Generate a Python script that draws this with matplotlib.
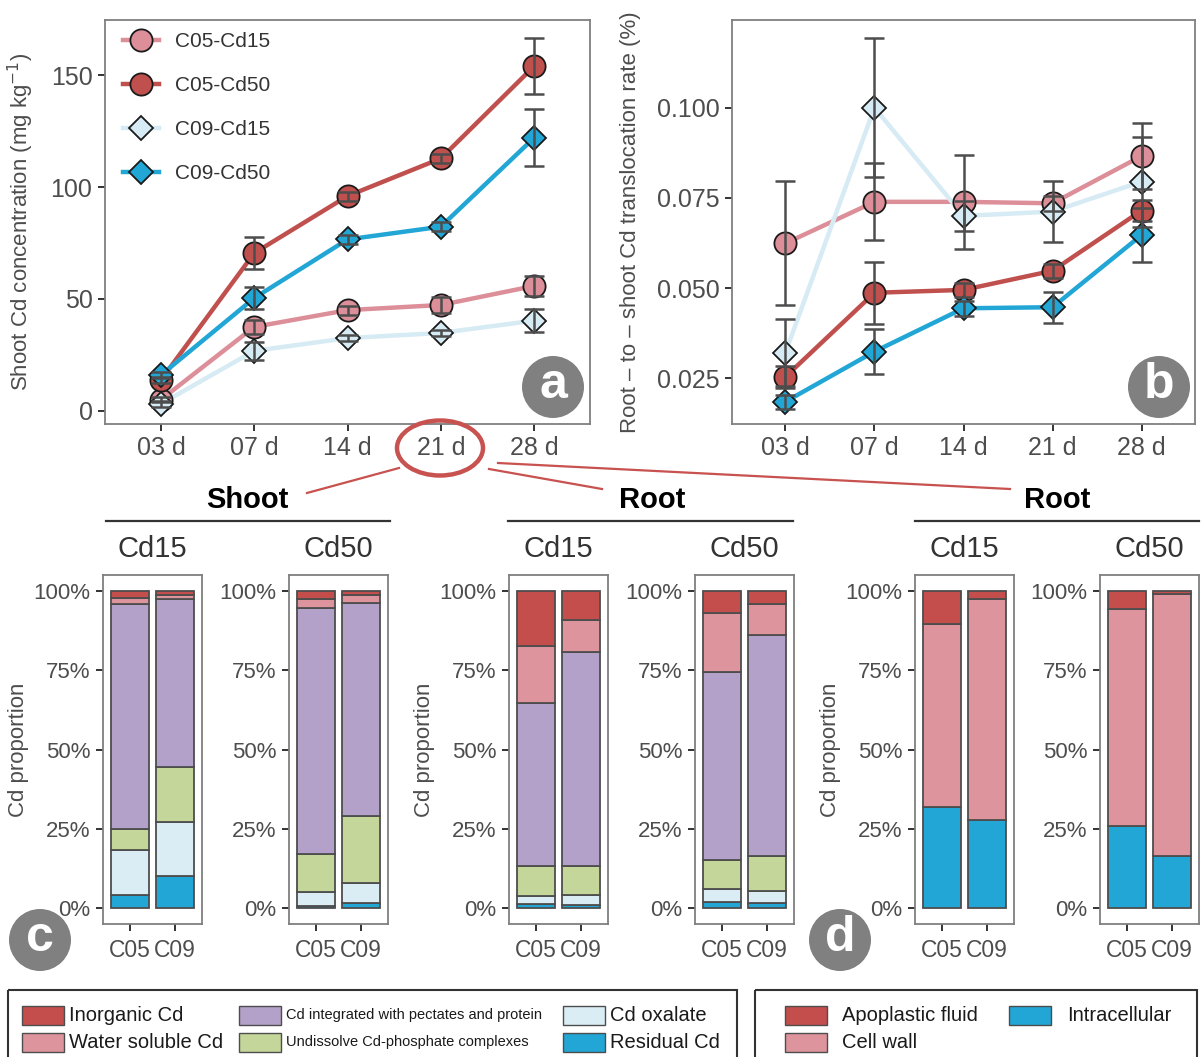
import numpy as np
import matplotlib
matplotlib.use('Agg')
import matplotlib.pyplot as plt
from matplotlib.lines import Line2D
from matplotlib.patches import Circle, Ellipse, Rectangle

plt.rcParams['font.family'] = ['Liberation Sans', 'DejaVu Sans']

# ---- data ----
days = ['03 d', '07 d', '14 d', '21 d', '28 d']
series = ['C05-Cd15', 'C05-Cd50', 'C09-Cd15', 'C09-Cd50']

# panel a: shoot Cd concentration (mg/kg)
conc_mean = {
    'C05-Cd15': [5.0, 37.5, 45.0, 47.3, 55.8],
    'C05-Cd50': [13.8, 70.5, 96.0, 112.8, 154.0],
    'C09-Cd15': [3.1, 26.8, 32.5, 34.8, 40.3],
    'C09-Cd50': [16.0, 50.4, 76.6, 82.3, 122.0],
}
conc_err = {
    'C05-Cd15': [1.0, 3.0, 2.0, 3.5, 4.3],
    'C05-Cd50': [1.5, 7.0, 2.0, 2.0, 12.5],
    'C09-Cd15': [1.5, 4.0, 1.5, 1.5, 5.2],
    'C09-Cd50': [1.5, 5.0, 2.0, 2.0, 12.7],
}

# panel b: root-to-shoot translocation rate (%)
trans_mean = {
    'C05-Cd15': [0.0624, 0.0739, 0.0739, 0.0735, 0.0866],
    'C05-Cd50': [0.0254, 0.0487, 0.0495, 0.0548, 0.0715],
    'C09-Cd15': [0.0321, 0.1000, 0.0700, 0.0712, 0.0795],
    'C09-Cd50': [0.0185, 0.0324, 0.0444, 0.0447, 0.0647],
}
trans_err = {
    'C05-Cd15': [0.0172, 0.0107, 0.0130, 0.0020, 0.0092],
    'C05-Cd50': [0.0030, 0.0086, 0.0020, 0.0020, 0.0030],
    'C09-Cd15': [0.0092, 0.0192, 0.0041, 0.0085, 0.0125],
    'C09-Cd50': [0.0020, 0.0063, 0.0020, 0.0043, 0.0074],
}

cultivars = ['C05', 'C09']

# panel c: chemical forms, stacked bottom -> top
forms = ['Residual Cd', 'Cd oxalate', 'Undissolve Cd-phosphate complexes',
         'Cd integrated with pectates and protein', 'Water soluble Cd', 'Inorganic Cd']
shoot_cd15 = {'C05': [4.1, 14.3, 6.5, 71.0, 1.9, 2.2],
              'C09': [10.0, 17.3, 17.3, 52.9, 1.2, 1.3]}
shoot_cd50 = {'C05': [0.8, 4.2, 12.0, 77.6, 2.8, 2.6],
              'C09': [1.5, 6.3, 21.3, 67.0, 2.6, 1.3]}
root_cd15 = {'C05': [1.3, 2.4, 9.7, 51.1, 18.0, 17.5],
             'C09': [0.9, 3.2, 9.3, 67.4, 9.9, 9.3]}
root_cd50 = {'C05': [2.0, 3.9, 9.4, 59.2, 18.6, 6.9],
             'C09': [1.7, 3.6, 11.1, 69.6, 9.9, 4.1]}

# panel d: subcellular distribution, stacked bottom -> top
parts = ['Intracellular', 'Cell wall', 'Apoplastic fluid']
sub_cd15 = {'C05': [31.8, 57.6, 10.6], 'C09': [27.7, 69.7, 2.6]}
sub_cd50 = {'C05': [26.0, 68.4, 5.6], 'C09': [16.5, 82.4, 1.1]}

# ---- styles ----
RED, PINK, PURPLE = '#C44E4C', '#DE949C', '#B3A1C9'
GREEN, LBLUE, BLUE = '#C5D69A', '#DAEDF4', '#21A6D5'
line_col = {'C05-Cd15': '#DC8F99', 'C05-Cd50': '#C0504D',
            'C09-Cd15': '#D6EBF3', 'C09-Cd50': '#21A6D5'}
mk = {'C05-Cd15': 'o', 'C05-Cd50': 'o', 'C09-Cd15': 'D', 'C09-Cd50': 'D'}
form_col = [BLUE, LBLUE, GREEN, PURPLE, PINK, RED]
part_col = [BLUE, PINK, RED]
TXT = '#4D4D4D'
BORDER = '#7F7F7F'

W, H = 1201, 1057
fig = plt.figure(figsize=(W / 100, H / 100), dpi=100)


def box(l, t, r, b):
    return [l / W, 1 - b / H, (r - l) / W, (b - t) / H]


def style(ax, ls=18):
    for s in ax.spines.values():
        s.set_color(BORDER)
        s.set_linewidth(1.3)
    ax.tick_params(direction='out', length=5, width=1.4, color='#333333',
                   labelsize=ls, labelcolor=TXT, pad=4)


def line_panel(ax, mean, err, ylabel, yticks, yfmt, ylim, lab_x):
    x = np.arange(len(days))
    for s in series:
        ax.plot(x, mean[s], color=line_col[s], lw=3.2, zorder=2,
                solid_capstyle='butt')
    for s in series:
        ax.plot(x, mean[s], ls='none', marker=mk[s],
                ms=16 if mk[s] == 'o' else 12, mfc=line_col[s], mec='#1a1a1a',
                mew=1.3, zorder=3)
    for s in series:
        ax.errorbar(x, mean[s], yerr=err[s], fmt='none', ecolor='#4D4D4D',
                    elinewidth=1.8, capsize=7.5, capthick=1.8, zorder=4)
    ax.set_xlim(-0.6, 4.6)
    ax.set_ylim(*ylim)
    ax.set_xticks(x)
    ax.set_xticklabels(days)
    ax.set_yticks(yticks)
    ax.set_yticklabels([yfmt.format(v) for v in yticks])
    ax.set_ylabel(ylabel, fontsize=16, color=TXT)
    ax.yaxis.set_label_coords(lab_x, 0.5)
    style(ax)


# panel a
ax_a = fig.add_axes(box(105, 20, 590, 424))
line_panel(ax_a, conc_mean, conc_err, 'Shoot Cd concentration (mg kg$^{-1}$)',
           [0, 50, 100, 150], '{:g}', (-5.9, 174.7), -0.142)
handles = [Line2D([0], [0], color=line_col[s], lw=3.2, marker=mk[s],
                  ms=16 if mk[s] == 'o' else 12, mfc=line_col[s],
                  mec='#1a1a1a', mew=1.3) for s in series]
ax_a.legend(handles, series, loc='upper left', bbox_to_anchor=(0.016, 0.995),
            frameon=False, fontsize=15, labelspacing=1.2, handlelength=1.7,
            handletextpad=0.8, borderpad=0, labelcolor='#333333')

# panel b
ax_b = fig.add_axes(box(732, 20, 1195, 424))
line_panel(ax_b, trans_mean, trans_err,
           'Root \u2013 to \u2013 shoot Cd translocation rate (%)',
           [0.025, 0.050, 0.075, 0.100], '{:.3f}', (0.01233, 0.1243), -0.197)


def bar_panel(l, data, colors, strip, ylabel):
    ax = fig.add_axes(box(l, 575, l + 99, 924))
    x = np.arange(len(cultivars))
    vals = np.array([data[c] for c in cultivars])
    bottom = np.zeros(len(cultivars))
    for k in range(vals.shape[1]):
        ax.bar(x, vals[:, k], bottom=bottom, width=0.85, color=colors[k],
               edgecolor='#4D4D4D', linewidth=1.3)
        bottom += vals[:, k]
    ax.set_xlim(-0.6, 1.6)
    ax.set_ylim(-5, 105)
    ax.set_xticks(x)
    ax.set_xticklabels(cultivars)
    ax.set_yticks([0, 25, 50, 75, 100])
    ax.set_yticklabels(['0%', '25%', '50%', '75%', '100%'])
    style(ax, ls=16)
    ax.tick_params(axis='x', pad=6, labelsize=16.5)
    ax.text(0.5, 1.075, strip, transform=ax.transAxes, ha='center',
            va='center', fontsize=21, color='#333333')
    if ylabel:
        ax.set_ylabel('Cd proportion', fontsize=16, color=TXT)
        ax.yaxis.set_label_coords(-0.75, 0.5)
    return ax


bar_panel(103, shoot_cd15, form_col, 'Cd15', True)
bar_panel(289, shoot_cd50, form_col, 'Cd50', False)
bar_panel(509, root_cd15, form_col, 'Cd15', True)
bar_panel(695, root_cd50, form_col, 'Cd50', False)
bar_panel(915, sub_cd15, part_col, 'Cd15', True)
bar_panel(1100, sub_cd50, part_col, 'Cd50', False)

# ---- overlay: group titles, callouts, panel letters, legends ----
ov = fig.add_axes([0, 0, 1, 1], zorder=10)
ov.set_xlim(0, W)
ov.set_ylim(H, 0)
ov.axis('off')
ov.patch.set_alpha(0)

for title, cx, x0, x1 in [('Shoot', 247, 106, 390), ('Root', 652, 508, 793),
                          ('Root', 1057, 915, 1199)]:
    ov.text(cx, 500, title, ha='center', va='center', fontsize=21,
            fontweight='bold', color='black')
    ov.plot([x0, x1], [521, 521], color='#333333', lw=1.6)

red_line = '#C8524F'
ov.add_patch(Ellipse((440, 448), 86, 55, fill=False, ec=red_line, lw=3.2))
for (xa, ya), (xb, yb) in [((399, 468), (307, 493)), ((489, 469), (602, 489)),
                           ((498, 463), (1010, 489))]:
    ov.plot([xa, xb], [ya, yb], color=red_line, lw=1.6)

for letter, cx, cy in [('a', 553, 387), ('b', 1159, 387),
                       ('c', 40, 940), ('d', 840, 940)]:
    ov.add_patch(Circle((cx, cy), 31, color='#808080', lw=0))
    ov.text(cx, cy - 2, letter, ha='center', va='center', fontsize=36,
            color='white', fontweight='bold')

# legend boxes
ov.add_patch(Rectangle((8, 990), 729, 80, fill=False, ec='#333333', lw=1.5))
ov.add_patch(Rectangle((755, 990), 442, 80, fill=False, ec='#333333', lw=1.5))

rows = [1015.5, 1042]
leg_c = [('Inorganic Cd', RED, 22, 0, 14.5, 5), ('Water soluble Cd', PINK, 22, 1, 14.5, 5),
         ('Cd integrated with pectates and protein', PURPLE, 239, 0, 10.5, 5),
         ('Undissolve Cd-phosphate complexes', GREEN, 239, 1, 10.5, 5),
         ('Cd oxalate', LBLUE, 563, 0, 14.5, 5), ('Residual Cd', BLUE, 563, 1, 14.5, 5)]
leg_d = [('Apoplastic fluid', RED, 785, 0, 14.5, 15), ('Intracellular', BLUE, 1009, 0, 14.5, 16),
         ('Cell wall', PINK, 785, 1, 14.5, 15)]
for lab, col, x0, r, fs, gap in leg_c + leg_d:
    y = rows[r]
    ov.add_patch(Rectangle((x0, y - 9.5), 42, 19, fc=col, ec='#4D4D4D', lw=1))
    ov.text(x0 + 42 + gap, y, lab, ha='left', va='center', fontsize=fs,
            color='#1a1a1a')

fig.savefig('out.png', dpi=100)
